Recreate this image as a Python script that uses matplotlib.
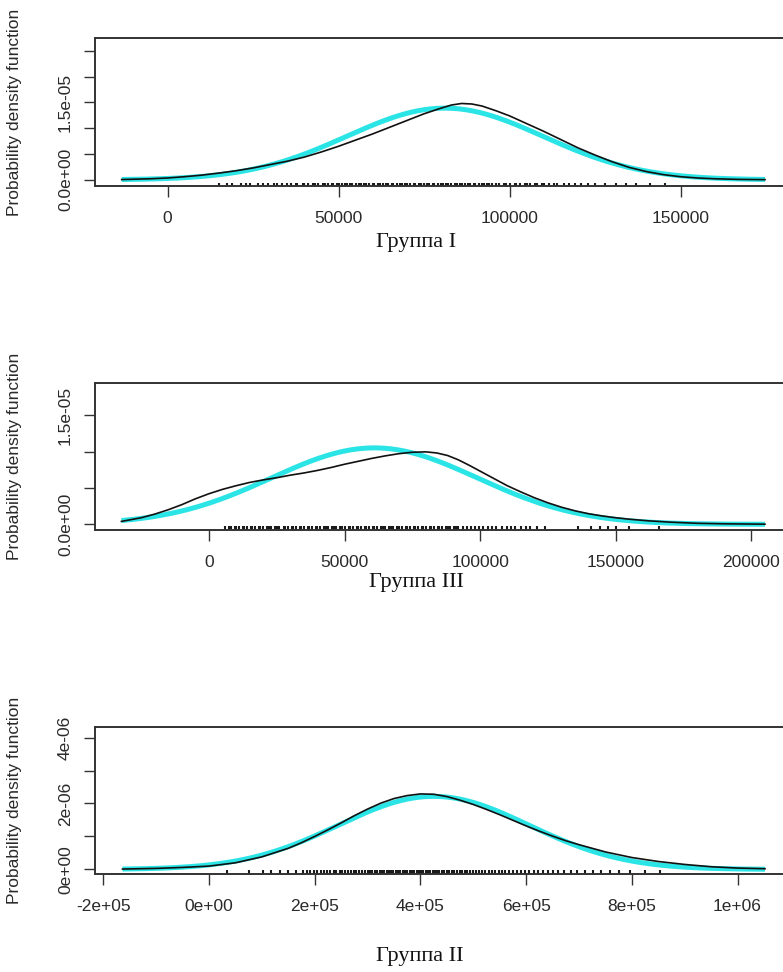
import matplotlib
matplotlib.use('Agg')
import matplotlib.pyplot as plt
import numpy as np

plt.rcParams['font.family'] = ['Liberation Sans', 'DejaVu Sans']

# ---- данные: эмпирическая плотность (чёрная линия) ----
g1_x = [-13400, -5000, 0, 5000, 10000, 15000, 20000, 25000, 30000, 35000, 40000,
        45000, 50000, 55000, 60000, 65000, 70000, 75000, 80000, 83000, 86000, 89000,
        92000, 96000, 100000, 105000, 110000, 115000, 120000, 125000, 130000, 135000,
        140000, 145000, 150000, 155000, 160000, 167000, 174700]
g1_y = [0.05, 0.2, 0.35, 0.6, 0.9, 1.3, 1.75, 2.3, 2.95, 3.6, 4.4,
        5.4, 6.5, 7.7, 8.9, 10.2, 11.5, 12.8, 13.9, 14.5, 14.8, 14.7,
        14.3, 13.4, 12.4, 10.9, 9.4, 7.8, 6.2, 4.8, 3.5, 2.4,
        1.6, 1.0, 0.6, 0.35, 0.2, 0.08, 0.03]  # x1e-6

g3_x = [-32260, -25000, -20000, -15000, -10000, -5000, 0, 5000, 10000, 15000, 20000,
        25000, 30000, 35000, 40000, 45000, 50000, 55000, 60000, 65000, 70000, 75000,
        80000, 84000, 88000, 92000, 96000, 100000, 105000, 110000, 115000, 120000,
        125000, 130000, 135000, 140000, 145000, 150000, 155000, 162000, 170000,
        180000, 190000, 205000]
g3_y = [0.4, 0.9, 1.4, 2.0, 2.7, 3.5, 4.2, 4.8, 5.3, 5.75, 6.1,
        6.4, 6.75, 7.05, 7.4, 7.8, 8.25, 8.65, 9.05, 9.4, 9.7, 9.9,
        9.95, 9.8, 9.45, 8.85, 8.1, 7.3, 6.3, 5.3, 4.45, 3.65,
        2.95, 2.35, 1.85, 1.45, 1.15, 0.9, 0.7, 0.48, 0.3,
        0.14, 0.07, 0.02]  # x1e-6

g2_x = [-163700, -100000, -50000, 0, 50000, 100000, 150000, 175000, 200000, 225000,
        250000, 275000, 300000, 325000, 350000, 375000, 400000, 425000, 450000,
        475000, 500000, 525000, 550000, 575000, 600000, 625000, 650000, 675000,
        700000, 750000, 800000, 850000, 900000, 950000, 1000000, 1052000]
g2_y = [0.01, 0.03, 0.06, 0.1, 0.2, 0.38, 0.64, 0.81, 1.0, 1.2,
        1.41, 1.63, 1.83, 2.01, 2.15, 2.24, 2.29, 2.28, 2.21,
        2.1, 1.97, 1.82, 1.66, 1.49, 1.32, 1.16, 1.01, 0.87,
        0.75, 0.53, 0.36, 0.24, 0.15, 0.08, 0.04, 0.02]  # x1e-6

# подобранное нормальное распределение (голубая линия): среднее, ст. отклонение
g1_norm = (81100, 28700)
g3_norm = (61000, 38000)
g2_norm = (425000, 180000)

# наблюдения (rug), тыс.
rug_g1 = [15, 17.5, 19, 21.5, 23, 24, 26.5, 28, 29.5, 31, 32, 33.5, 35, 36, 37.5, 38,
          39.5, 40, 41, 42.5, 43, 44, 45.5, 46, 47, 48, 48.5, 49.5, 50, 51, 52, 52.5,
          53.5, 54, 55, 56, 56.5, 57.5, 58, 59, 60, 60.5, 61.5, 62, 63, 64, 64.5,
          65.5, 66, 67, 68, 68.5, 69.5, 70, 71, 72, 72.5, 73.5, 74, 75, 76, 76.5,
          77.5, 78, 79, 80, 80.5, 81.5, 82, 83, 84, 84.5, 85.5, 86, 87, 88, 88.5,
          89.5, 90, 91, 92, 92.5, 93.5, 94, 95, 96, 97, 98.5, 99, 100, 101.5, 102,
          103, 104.5, 105, 106, 107.5, 108, 109.5, 110, 111.5, 113, 114, 116, 117.5,
          119, 121, 123, 125, 128, 131, 134, 137, 141, 145.5]
rug_g3 = [6, 7.5, 8, 9.5, 10, 11, 12.5, 13, 14, 15.5, 16, 17, 18.5, 19, 20, 21.5, 22,
          23, 24.5, 25, 26, 27.5, 28, 29, 30.5, 31, 32, 33.5, 34, 35, 36.5, 37, 38,
          39.5, 40, 41, 42.5, 43, 44, 45.5, 46, 47, 48.5, 49, 50, 51.5, 52, 53, 54.5,
          55, 56, 57.5, 58, 59, 60.5, 61, 62, 63.5, 64, 65, 66.5, 67, 68, 69.5, 70,
          71, 72.5, 73, 74, 75.5, 76, 77, 78.5, 79, 80, 81.5, 82, 83, 84.5, 85, 86,
          87.5, 88, 89, 90.5, 91, 92, 93.5, 95, 96.5, 98, 99.5, 101, 103, 104.5, 106,
          108, 110, 111.5, 113, 115, 117, 118.5, 121, 124, 136, 141, 144, 147, 150,
          155, 166]
rug_g2 = [35, 75, 103, 118, 135, 150, 165, 178, 185, 192, 198, 205, 211, 218, 223,
          229, 236, 241, 247, 252, 258, 263, 268, 274, 279, 284, 290, 295, 300, 305,
          309, 314, 318, 323, 327, 332, 336, 341, 345, 349, 354, 358, 362, 367, 371,
          375, 380, 384, 388, 393, 397, 401, 405, 410, 414, 418, 423, 427, 432, 436,
          441, 445, 450, 455, 459, 464, 469, 474, 479, 484, 489, 494, 500, 505, 511,
          517, 523, 529, 535, 541, 548, 554, 561, 568, 575, 582, 590, 598, 606, 614,
          623, 632, 641, 651, 661, 672, 684, 697, 711, 726, 742, 758, 775, 797, 825,
          853]

W, H = 783, 972
fig = plt.figure(figsize=(W / 100, H / 100), dpi=100)


def px_axes(top, bottom, left=95, right=791):
    return fig.add_axes([left / W, 1 - bottom / H, (right - left) / W, (bottom - top) / H])


def draw(ax, xs, ys, norm, rug, xlim, ylim, yticks, ylabels, xticks, xlabels):
    xs = np.array(xs)
    ys = np.array(ys) * 1e-6
    xx = np.linspace(xs[0], xs[-1], 400)
    mu, sd = norm
    pdf = np.exp(-0.5 * ((xx - mu) / sd) ** 2) / (sd * np.sqrt(2 * np.pi))
    ax.plot(xx, pdf, color='#2ae4e6', lw=3.6, solid_capstyle='butt')
    ax.plot(xs, ys, color='#111111', lw=1.2, solid_joinstyle='round')
    ax.vlines(np.array(rug) * 1000, 0, 0.026, transform=ax.get_xaxis_transform(),
              color='#1a1a1a', lw=1.5)
    ax.set_xlim(*xlim)
    ax.set_ylim(*ylim)
    ax.set_xticks(xticks)
    ax.set_xticklabels(xlabels)
    ax.set_yticks(yticks)
    ax.set_yticklabels(ylabels, rotation=90, va='center')
    ax.tick_params(direction='out', length=7.9, width=1.0, color='#333333',
                   labelsize=12.5, labelcolor='#2a2a2a')
    ax.tick_params(axis='x', pad=10)
    ax.tick_params(axis='y', pad=8)
    for s in ax.spines.values():
        s.set_color('#333333')
        s.set_linewidth(1.4)


ax1 = px_axes(38, 186.5)
draw(ax1, g1_x, g1_y, g1_norm, rug_g1, (-21200, 182300), (-1.3e-6, 2.75e-5),
     [0, 5e-6, 1e-5, 1.5e-5, 2e-5, 2.5e-5], ['0.0e+00', '', '', '1.5e-05', '', ''],
     [0, 50000, 100000, 150000], ['0', '50000', '100000', '150000'])

ax2 = px_axes(382.7, 530)
draw(ax2, g3_x, g3_y, g3_norm, rug_g3, (-42000, 214600), (-0.78e-6, 1.945e-5),
     [0, 5e-6, 1e-5, 1.5e-5], ['0.0e+00', '', '', '1.5e-05'],
     [0, 50000, 100000, 150000, 200000], ['0', '50000', '100000', '150000', '200000'])

ax3 = px_axes(726.7, 874)
draw(ax3, g2_x, g2_y, g2_norm, rug_g2, (-215700, 1101200), (-0.14e-6, 4.33e-6),
     [0, 1e-6, 2e-6, 3e-6, 4e-6], ['0e+00', '', '2e-06', '', '4e-06'],
     [-2e5, 0, 2e5, 4e5, 6e5, 8e5, 1e6],
     ['-2e+05', '0e+00', '2e+05', '4e+05', '6e+05', '8e+05', '1e+06'])

# подписи осей и групп
for yc in [112, 456, 800]:
    fig.text(15 / W, 1 - yc / H, 'Probability density function', rotation=90,
             ha='center', va='center', fontsize=12.5, color='#2a2a2a')

captions = [('Группа I', 416, 242), ('Группа III', 416, 582), ('Группа II', 420, 956)]
for txt, xc, yc in captions:
    fig.text(xc / W, 1 - yc / H, txt, ha='center', va='center', fontsize=16,
             family=['Liberation Serif', 'DejaVu Serif'], color='#111111')

fig.savefig('out.png', dpi=100)
